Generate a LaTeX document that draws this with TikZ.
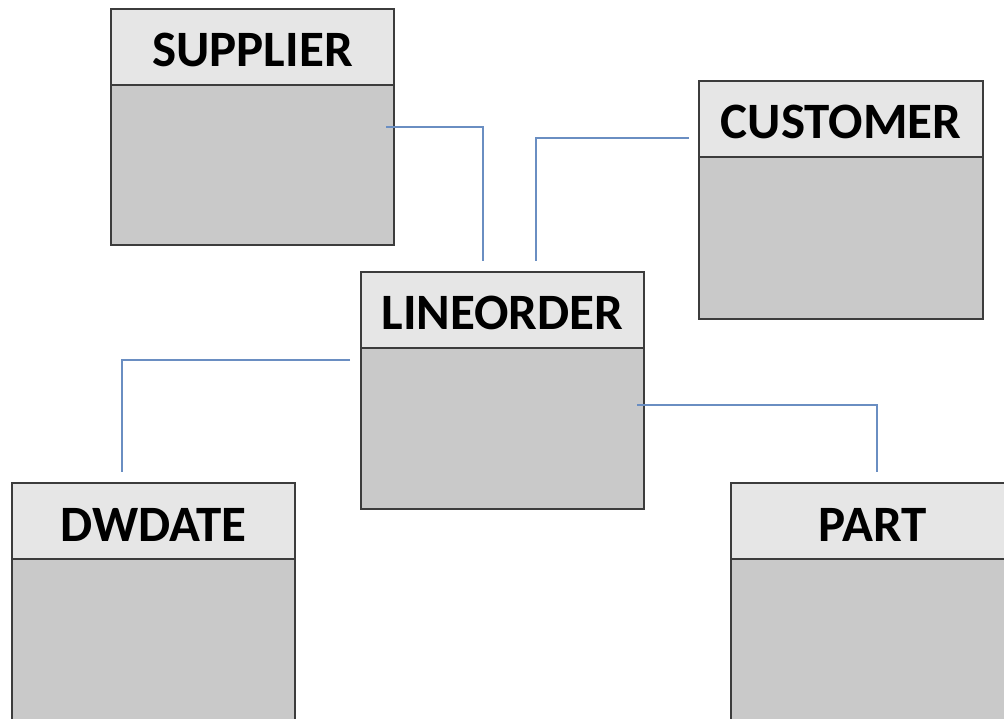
\documentclass[tikz,border=0pt]{standalone}
\usepackage{fontspec}
\setmainfont{Carlito}
\definecolor{edgegray}{HTML}{3C3C3C}
\definecolor{headfill}{HTML}{E6E6E6}
\definecolor{bodyfill}{HTML}{C9C9C9}
\definecolor{linkblue}{HTML}{6A8EC2}
\tikzset{
  hdr/.style={draw=edgegray, fill=headfill, line width=2pt, anchor=north west,
    minimum height=76pt, inner sep=0pt, text height=40pt, text depth=0pt,
    font=\fontsize{51}{60}\selectfont\bfseries},
  bdy/.style={draw=edgegray, fill=bodyfill, line width=2pt, anchor=north west, inner sep=0pt},
  link/.style={draw=linkblue, line width=1.6pt}
}
% one table: name, x, y, width, body height, title
\newcommand\erTable[6]{%
  \node[bdy, minimum width=#4, minimum height=#5] (#1body) at (#2,#3+76) {};
  \node[hdr, minimum width=#4] (#1) at (#2,#3) {#6};
}
\begin{document}
\begin{tikzpicture}[x=1pt,y=-1pt]
\useasboundingbox (0,0) rectangle (1004,719);
\clip (0,0) rectangle (1004,719);

\erTable{sup}{110}{8}{283}{160}{SUPPLIER}
\erTable{cus}{698}{80}{284}{162}{CUSTOMER}
\erTable{lo}{360}{271}{283}{161}{LINEORDER}
\erTable{dw}{11}{482}{283}{200}{DWDATE}
\erTable{pt}{730}{482}{283}{200}{PART}

% connector end points
\coordinate (supA) at ([xshift=-9pt,yshift=-43pt]supbody.north east);
\coordinate (supB) at ([xshift=-19.5pt,yshift=10pt]lo.north);
\coordinate (cusA) at ([xshift=-9pt,yshift=18pt]cusbody.north west);
\coordinate (cusB) at ([xshift=33.5pt,yshift=10pt]lo.north);
\coordinate (dwA)  at ([xshift=-10pt,yshift=-13pt]lobody.north west);
\coordinate (dwB)  at ([xshift=-31.5pt,yshift=10pt]dw.north);
\coordinate (ptA)  at ([xshift=-8pt,yshift=-58pt]lobody.north east);
\coordinate (ptB)  at ([xshift=4.5pt,yshift=10pt]pt.north);

\draw[link] (supA) -| (supB);
\draw[link] (cusA) -| (cusB);
\draw[link] (dwA) -| (dwB);
\draw[link] (ptA) -| (ptB);
\end{tikzpicture}
\end{document}
